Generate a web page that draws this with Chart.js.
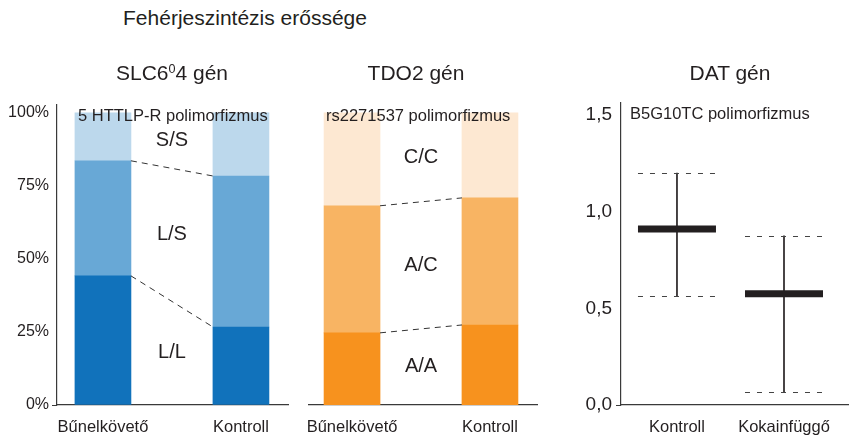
<!DOCTYPE html>
<html>
<head>
<meta charset="utf-8">
<script src="https://cdn.jsdelivr.net/npm/chart.js@4"></script>
<style>
  body { margin: 0; width: 851px; height: 438px; position: relative; overflow: hidden; background: #fff;
         font-family: "Liberation Sans", Arial, sans-serif; color: #231f20; }
  canvas { position: absolute; top: 80px; }
  .t { position: absolute; white-space: nowrap; transform: translate(-50%, -50%); font-size: 21px; z-index: 2; }
  .s { position: absolute; white-space: nowrap; transform: translateY(-50%); font-size: 16.5px; z-index: 2; }
  sup { font-size: 0.6em; vertical-align: 0.55em; line-height: 0; }
</style>
</head>
<body>
<canvas id="c1" width="300" height="358" style="left:0"></canvas>
<canvas id="c2" width="245" height="358" style="left:300px"></canvas>
<canvas id="c3" width="301" height="358" style="left:550px"></canvas>

<div class="t" style="left:245px;top:18px">Fehérjeszintézis erőssége</div>
<div class="t" style="left:172px;top:73px">SLC6<sup>0</sup>4 gén</div>
<div class="t" style="left:416px;top:73px">TDO2 gén</div>
<div class="t" style="left:730px;top:73px">DAT gén</div>
<div class="s" style="left:78px;top:115px">5 HTTLP-R polimorfizmus</div>
<div class="s" style="left:326px;top:115px">rs2271537 polimorfizmus</div>
<div class="s" style="left:630px;top:113px">B5G10TC polimorfizmus</div>

<script>
// SLC6A4 panel (percent of group)
const groups1 = ['Bűnelkövető', 'Kontroll'];
const sertLL = [44.2, 26.7];
const sertLS = [39.4, 51.7];
const sertSS = [16.4, 21.6];

// TDO2 panel
const groups2 = ['Bűnelkövető', 'Kontroll'];
const tdoAA = [24.7, 27.4];
const tdoAC = [43.5, 43.5];
const tdoCC = [31.8, 29.1];

const percentTicks = [0, 25, 50, 75, 100];

// DAT panel
const groups3 = ['Kontroll', 'Kokainfüggő'];
const datMean = [0.91, 0.575];
const datLow = [0.565, 0.065];
const datHigh = [1.2, 0.875];
const datTicks = [0, 0.5, 1, 1.5];

const FONT = '"Liberation Sans", Arial, sans-serif';
const INK = '#231f20';
const AXIS = '#3a3a3a';

Chart.defaults.font.family = FONT;
Chart.defaults.color = INK;
Chart.defaults.animation = false;

// dashed links between the stacked bars + genotype names in the gap
const stackLinks = {
  id: 'stackLinks',
  afterDatasetsDraw(chart) {
    const ctx = chart.ctx;
    const sets = chart.data.datasets;
    ctx.save();
    ctx.strokeStyle = '#333';
    ctx.lineWidth = 1;
    ctx.setLineDash([6, 5]);
    for (let d = 0; d < sets.length - 1; d++) {
      const [a, b] = chart.getDatasetMeta(d).data;
      ctx.beginPath();
      ctx.moveTo(a.x + a.width / 2, a.y);
      ctx.lineTo(b.x - b.width / 2, b.y);
      ctx.stroke();
    }
    ctx.setLineDash([]);
    ctx.fillStyle = INK;
    ctx.font = '20px ' + FONT;
    ctx.textAlign = 'center';
    ctx.textBaseline = 'middle';
    sets.forEach((ds, d) => {
      const [a, b] = chart.getDatasetMeta(d).data;
      const midY = (a.y + a.base + b.y + b.base) / 4;
      const midX = (a.x + a.width / 2 + b.x - b.width / 2) / 2;
      ctx.fillText(ds.label, midX, midY);
    });
    ctx.restore();
  }
};

// dashed range lines for the DAT panel
const dashCaps = {
  id: 'dashCaps',
  afterDatasetsDraw(chart) {
    const { ctx, scales: { x, y } } = chart;
    ctx.save();
    ctx.strokeStyle = '#444';
    ctx.lineWidth = 1;
    ctx.setLineDash([5, 7]);
    groups3.forEach((g, i) => {
      const cx = x.getPixelForValue(i);
      [datLow[i], datHigh[i]].forEach(v => {
        const py = Math.round(y.getPixelForValue(v)) + 0.5;
        ctx.beginPath();
        ctx.moveTo(cx - 39, py);
        ctx.lineTo(cx + 39, py);
        ctx.stroke();
      });
    });
    ctx.restore();
  }
};

function pts(values) {
  return values.map((v, i) => ({ x: i, y: v }));
}

function zeroTick(ctx) {
  return ctx.tick && ctx.tick.value === 0 ? AXIS : 'rgba(0,0,0,0)';
}

function catAxis(labels, min, max, stacked) {
  return {
    type: 'linear', min, max, stacked, offset: false, bounds: 'data',
    afterBuildTicks: s => { s.ticks = labels.map((l, i) => ({ value: i })); },
    afterFit: s => { s.height = 33; s.paddingLeft = 0; s.paddingRight = 0; },
    ticks: { callback: v => labels[v], font: { size: 16.5 }, padding: 13, maxRotation: 0, autoSkip: false },
    grid: { drawOnChartArea: false, drawTicks: false, offset: false },
    border: { color: AXIS, width: 1.2 }
  };
}

function stackedPanel(id, labels, names, series, colors, xmin, xmax, showY, padding) {
  new Chart(document.getElementById(id), {
    type: 'bar',
    data: {
      datasets: series.map((s, k) => ({
        label: names[k], data: pts(s), backgroundColor: colors[k], barThickness: 56
      }))
    },
    options: {
      responsive: false,
      layout: { padding, autoPadding: false },
      plugins: { legend: { display: false }, tooltip: { enabled: false } },
      scales: {
        x: catAxis(labels, xmin, xmax, true),
        y: {
          display: showY, stacked: true, min: 0, max: 102.7,
          afterBuildTicks: s => { s.ticks = percentTicks.map(v => ({ value: v })); },
          afterFit: s => { if (showY) s.width = 57; s.paddingTop = 0; s.paddingBottom = 0; },
          ticks: { callback: v => v + '%', font: { size: 16 }, padding: 3 },
          grid: { drawOnChartArea: false, color: zeroTick, tickLength: 5 },
          border: { color: AXIS, width: 1.2 }
        }
      }
    },
    plugins: [stackLinks]
  });
}

stackedPanel('c1', groups1, ['L/L', 'L/S', 'S/S'], [sertLL, sertLS, sertSS],
  ['#1172bb', '#68a8d6', '#bcd8ec'], -0.333, 1.341, true,
  { left: 0, right: 12, top: 25, bottom: 0 });

stackedPanel('c2', groups2, ['A/A', 'A/C', 'C/C'], [tdoAA, tdoAC, tdoCC],
  ['#f7921e', '#f8b463', '#fde8d2'], -0.312, 1.341, false,
  { left: 9, right: 8, top: 25, bottom: 0 });

new Chart(document.getElementById('c3'), {
  type: 'bar',
  data: {
    datasets: [
      {
        type: 'line', label: 'átlag', data: pts(datMean), showLine: false,
        pointStyle: 'line', pointRadius: 39, pointHoverRadius: 39,
        pointBorderWidth: 7, pointBorderColor: INK
      },
      {
        label: 'tartomány', data: groups3.map((g, i) => ({ x: i, y: [datLow[i], datHigh[i]] })),
        backgroundColor: INK, barThickness: 1
      }
    ]
  },
  options: {
    responsive: false,
    layout: { padding: { left: 0, right: 3, top: 23, bottom: 0 }, autoPadding: false },
    plugins: { legend: { display: false }, tooltip: { enabled: false } },
    scales: {
      x: catAxis(groups3, -0.523, 1.598, false),
      y: {
        min: 0, max: 1.562,
        afterBuildTicks: s => { s.ticks = datTicks.map(v => ({ value: v })); },
        afterFit: s => { s.width = 71; s.paddingTop = 0; s.paddingBottom = 0; },
        ticks: { callback: v => v.toFixed(1).replace('.', ','), font: { size: 19 }, padding: 4 },
        grid: { drawOnChartArea: false, color: zeroTick, tickLength: 5 },
        border: { color: AXIS, width: 1.2 }
      }
    }
  },
  plugins: [dashCaps]
});
</script>
</body>
</html>
